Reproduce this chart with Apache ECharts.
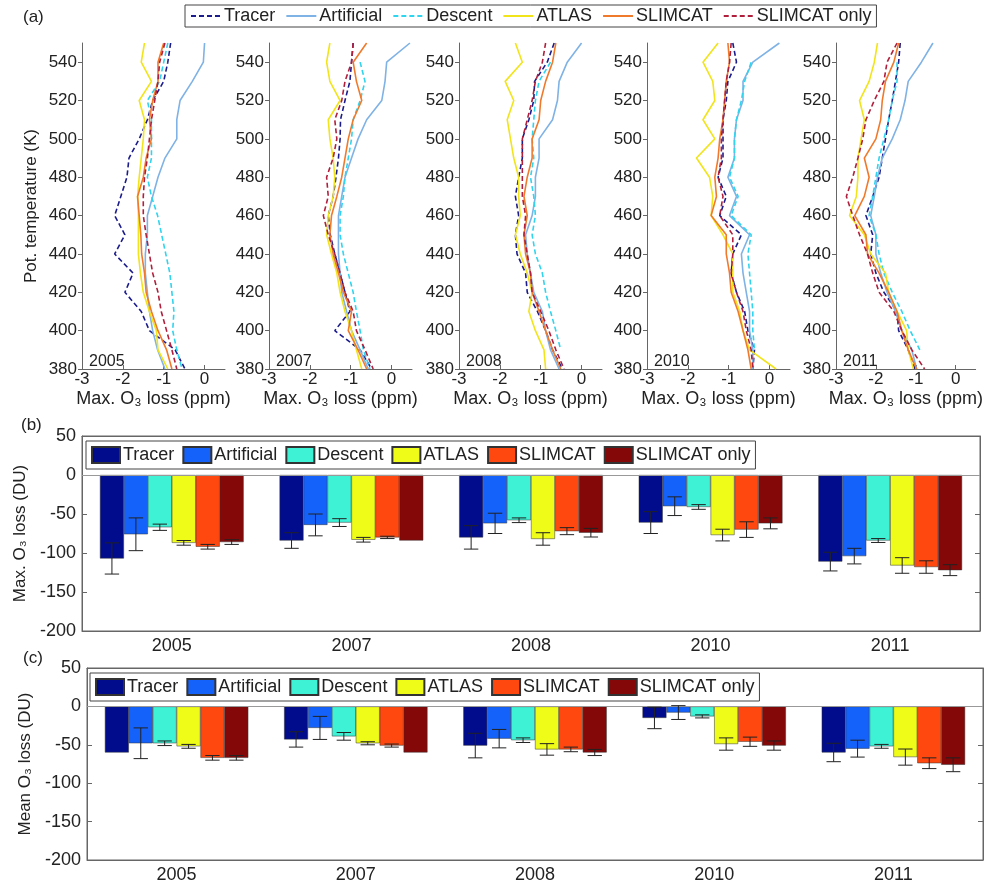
<!DOCTYPE html>
<html>
<head>
<meta charset="utf-8">
<script src="https://cdn.jsdelivr.net/npm/echarts@6/dist/echarts.min.js"></script>
<style>
html, body { margin: 0; padding: 0; background: #fff; }
#main { width: 985px; height: 884px; }
</style>
</head>
<body>
<div id="main"></div>
<script>
// potential temperature levels (K), top to bottom
var levels = [550, 540, 530, 520, 510, 500, 490, 480, 470, 460, 450, 440, 430, 420, 410, 400, 390, 380];
var years = ['2005', '2007', '2008', '2010', '2011'];
var names = ['Tracer', 'Artificial', 'Descent', 'ATLAS', 'SLIMCAT', 'SLIMCAT only'];

// max. O3 loss profiles (ppm), one row per year, values at each level
var profTracer = [
    [-0.83, -0.9, -1.0, -1.27, -1.4, -1.6, -1.85, -1.9, -2.05, -2.2, -1.95, -2.2, -1.75, -1.95, -1.55, -1.35, -0.72, -0.48],
    [-0.94, -0.98, -1.02, -1.14, -1.25, -1.26, -1.3, -1.36, -1.43, -1.55, -1.5, -1.39, -1.26, -1.14, -1.02, -1.39, -0.77, -0.49],
    [-0.67, -0.84, -1.15, -1.17, -1.29, -1.45, -1.45, -1.54, -1.62, -1.54, -1.62, -1.58, -1.37, -1.33, -1.08, -0.88, -0.71, -0.47],
    [-0.9, -0.81, -1.02, -1.06, -1.14, -1.14, -1.14, -1.26, -1.06, -1.22, -0.69, -0.9, -0.94, -0.81, -0.61, -0.53, -0.37, -0.41],
    [-1.39, -1.43, -1.51, -1.59, -1.68, -1.76, -1.84, -1.92, -2.08, -2.25, -2.08, -2.13, -2.0, -1.8, -1.47, -1.43, -1.19, -1.02]
];
var profArtificial = [
    [0.0, -0.03, -0.3, -0.6, -0.68, -0.68, -0.97, -1.14, -1.27, -1.4, -1.4, -1.45, -1.45, -1.4, -1.35, -1.27, -1.15, -0.97],
    [0.45, -0.12, -0.16, -0.24, -0.61, -0.82, -0.98, -1.14, -1.22, -1.3, -1.3, -1.3, -1.26, -1.22, -1.1, -0.98, -0.77, -0.57],
    [0.0, -0.35, -0.55, -0.59, -0.71, -1.04, -1.04, -1.13, -1.13, -1.21, -1.37, -1.33, -1.25, -1.17, -0.96, -0.88, -0.76, -0.55],
    [0.24, -0.41, -0.65, -0.65, -0.81, -0.86, -0.86, -1.02, -0.81, -0.98, -0.49, -0.69, -0.65, -0.57, -0.49, -0.49, -0.41, -0.41],
    [-0.57, -0.86, -1.19, -1.27, -1.39, -1.59, -1.84, -1.96, -2.04, -2.13, -2.0, -2.0, -1.88, -1.72, -1.51, -1.35, -1.1, -0.98]
];
var profDescent = [
    [-0.9, -1.0, -1.1, -1.4, -1.3, -1.3, -1.3, -1.4, -1.3, -1.15, -1.05, -0.95, -0.85, -0.8, -0.75, -0.78, -0.68, -0.55],
    [null, -0.77, -0.65, -0.77, -0.94, -0.98, -1.06, -1.14, -1.18, -1.26, -1.26, -1.18, -1.06, -0.94, -0.86, -0.77, -0.69, -0.53],
    [null, -0.76, -1.04, -1.13, -1.17, -1.21, -1.17, -1.25, -1.17, -1.13, -1.21, -1.13, -0.96, -0.88, -0.76, -0.63, -0.51, null],
    [null, -0.45, -0.61, -0.69, -0.81, -0.86, -0.86, -0.98, -0.77, -0.94, -0.45, -0.53, -0.49, -0.45, -0.41, -0.41, -0.37, null],
    [null, -1.47, -1.47, -1.59, -1.68, -1.8, -1.92, -2.0, -2.08, -2.17, -2.0, -1.92, -1.8, -1.59, -1.35, -1.14, -0.9, null]
];
var profAtlas = [
    [-1.47, -1.55, -1.3, -1.6, -1.47, -1.5, -1.55, -1.6, -1.64, -1.62, -1.62, -1.62, -1.57, -1.5, -1.35, -1.18, -1.14, -0.9],
    [-1.51, -1.59, -1.51, -1.26, -1.55, -1.51, -1.43, -1.39, -1.43, -1.55, -1.59, -1.47, -1.34, -1.26, -1.14, -0.98, -0.86, -0.73],
    [-1.62, -1.45, -1.87, -1.66, -1.82, -1.74, -1.66, -1.54, -1.54, -1.5, -1.62, -1.5, -1.33, -1.21, -1.29, -1.13, -0.92, -0.88],
    [-1.26, -1.63, -1.39, -1.34, -1.63, -1.34, -1.79, -1.47, -1.39, -1.43, -1.14, -0.9, -0.9, -0.9, -0.73, -0.65, -0.49, 0.16],
    [-1.96, -2.04, -2.17, -2.41, -2.29, -2.37, -2.45, -2.45, -2.49, -2.66, -2.29, -2.13, -1.76, -1.68, -1.47, -1.23, -1.19, -1.06]
];
var profSlimcat = [
    [-1.0, -1.14, -1.14, -1.27, -1.35, -1.3, -1.43, -1.5, -1.64, -1.6, -1.56, -1.54, -1.47, -1.43, -1.3, -1.14, -0.93, -0.8],
    [-0.61, -0.94, -0.86, -0.73, -0.94, -1.06, -1.14, -1.22, -1.34, -1.47, -1.51, -1.43, -1.3, -1.18, -0.98, -1.06, -0.82, -0.61],
    [-0.63, -0.71, -0.88, -1.0, -1.04, -1.21, -1.21, -1.33, -1.41, -1.33, -1.41, -1.37, -1.25, -1.21, -1.04, -0.88, -0.71, -0.51],
    [-1.02, -0.98, -1.06, -1.1, -1.14, -1.22, -1.26, -1.34, -1.3, -1.43, -1.06, -1.06, -0.98, -0.94, -0.77, -0.65, -0.53, -0.45],
    [-1.43, -1.55, -1.76, -1.84, -1.88, -2.0, -2.29, -2.17, -2.29, -2.53, -2.25, -2.21, -1.92, -1.68, -1.47, -1.35, -1.19, -0.98]
];
var profSlimcatOnly = [
    [-0.97, -1.1, -1.14, -1.22, -1.3, -1.35, -1.4, -1.47, -1.5, -1.5, -1.43, -1.35, -1.27, -1.14, -1.06, -0.93, -0.8, -0.68],
    [-0.94, -0.98, -1.14, -1.22, -1.39, -1.34, -1.43, -1.59, -1.55, -1.67, -1.55, -1.39, -1.26, -1.14, -0.94, -0.86, -0.65, -0.45],
    [-0.88, -0.96, -1.13, -1.21, -1.33, -1.45, -1.45, -1.45, -1.45, -1.37, -1.41, -1.33, -1.25, -1.21, -1.0, -0.8, -0.63, -0.43],
    [-0.94, -0.98, -1.06, -1.1, -1.14, -1.18, -1.18, -1.26, -1.14, -1.22, -0.9, -0.9, -0.94, -0.81, -0.65, -0.57, -0.45, -0.41],
    [-1.47, -1.72, -1.8, -2.04, -2.25, -2.33, -2.45, -2.58, -2.74, -2.58, -2.41, -2.21, -2.08, -1.92, -1.55, -1.35, -1.1, -0.78]
];

// column loss (DU), one row per method, one value per year
var maxLoss = [
    [-107, -84, -80, -61, -111],
    [-76, -64, -62, -40, -104],
    [-67, -61, -58, -41, -84],
    [-87, -83, -82, -77, -116],
    [-92, -80, -72, -70, -118],
    [-86, -84, -74, -62, -122]
];
var maxLossErr = [
    [20, 10, 15, 14, 12],
    [21, 14, 13, 12, 10],
    [4, 5, 3, 3, 2.5],
    [3, 3, 8, 7.5, 10],
    [3, 1.5, 4.5, 10, 8],
    [3, 0, 5.5, 7, 7]
];
var meanLoss = [
    [-60, -43, -51, -15, -60],
    [-48, -28, -42, -8, -55],
    [-48, -39, -44, -13, -52],
    [-52, -48, -56, -49, -66],
    [-67, -51, -56, -46, -74],
    [-67, -60, -60, -51, -76]
];
var meanLossErr = [
    [0, 10, 16, 14, 12],
    [20, 15, 12, 9, 11],
    [3, 5, 3, 2, 2.5],
    [2.5, 2, 7.5, 8, 10.5],
    [3, 2, 3, 6, 7],
    [3, 0, 4, 6, 9]
];

var profiles = [profTracer, profArtificial, profDescent, profAtlas, profSlimcat, profSlimcatOnly];
var lineColors = ['#1c1c8c', '#7fb2e5', '#2fd4ee', '#f2e41a', '#f07a2c', '#b0203c'];
var lineTypes = [[5, 3], 'solid', [5, 3], 'solid', 'solid', [5, 3]];
var barColors = ['#000c8c', '#1462fa', '#3ef2d6', '#eefc18', '#ff4810', '#840808'];

var font = '"Liberation Sans", Arial, sans-serif';
var txt = {fontFamily: font, fontSize: 18, color: '#222'};
var axisCol = '#666';

var panelLeft = [82, 269, 459, 647, 836];
var grid = [], xAxis = [], yAxis = [], series = [], title = [];

title.push({text: '(a)', left: 18, top: 4, textStyle: {fontFamily: font, fontSize: 17, fontWeight: 'normal', color: '#222'}});
title.push({text: '(b)', left: 16, top: 412, textStyle: {fontFamily: font, fontSize: 17, fontWeight: 'normal', color: '#222'}});
title.push({text: '(c)', left: 18, top: 645, textStyle: {fontFamily: font, fontSize: 17, fontWeight: 'normal', color: '#222'}});

panelLeft.forEach(function(l, i) {
    grid.push({left: l, top: 43, width: 143, height: 326});
    xAxis.push({
        type: 'value', gridIndex: i, min: -3, max: 0.5, interval: 1,
        name: 'Max. O\u2083 loss (ppm)', nameLocation: 'middle', nameGap: 21,
        nameTextStyle: txt,
        axisLine: {show: true, onZero: false, lineStyle: {color: axisCol}},
        axisTick: {show: true, inside: true, length: 4, lineStyle: {color: axisCol}},
        axisLabel: {showMaxLabel: false, margin: 2, fontFamily: font, fontSize: 17, color: '#222'},
        splitLine: {show: false}
    });
    yAxis.push({
        type: 'value', gridIndex: i, min: 380, max: 550, interval: 20,
        name: i === 0 ? 'Pot. temperature (K)' : '', nameLocation: 'middle', nameGap: 42,
        nameTextStyle: {fontFamily: font, fontSize: 17, color: '#222'},
        axisLine: {show: true, onZero: false, lineStyle: {color: axisCol}},
        axisTick: {show: true, length: 4, lineStyle: {color: axisCol}},
        axisLabel: {showMaxLabel: false, margin: 5, fontFamily: font, fontSize: 17, color: '#222'},
        splitLine: {show: false}
    });
    title.push({text: years[i], left: l + 2, top: 349, textStyle: {fontFamily: font, fontSize: 16, fontWeight: 'normal', color: '#222'}});
    profiles.forEach(function(prof, j) {
        var pts = [];
        levels.forEach(function(k, idx) {
            if (prof[i][idx] != null) pts.push([prof[i][idx], k]);
        });
        series.push({
            type: 'line', name: names[j], xAxisIndex: i, yAxisIndex: i,
            data: pts, symbol: 'none', silent: true,
            lineStyle: {color: lineColors[j], width: 1.6, type: lineTypes[j]},
            itemStyle: {color: lineColors[j]}
        });
    });
});

// error bars drawn over the grouped bars
function renderErr(params, api) {
    var cat = api.value(0), j = api.value(1), v = api.value(2), e = api.value(3);
    if (!e) return;
    var band = api.size([1, 0])[0];
    var w = band * 0.8 / 6;
    var x = api.coord([cat, v])[0] - 0.4 * band + (j + 0.5) * w;
    var y1 = api.coord([cat, v + e])[1];
    var y2 = api.coord([cat, v - e])[1];
    var cap = w * 0.3;
    var st = {stroke: '#222', lineWidth: 1};
    return {
        type: 'group',
        children: [
            {type: 'line', shape: {x1: x, y1: y1, x2: x, y2: y2}, style: st},
            {type: 'line', shape: {x1: x - cap, y1: y1, x2: x + cap, y2: y1}, style: st},
            {type: 'line', shape: {x1: x - cap, y1: y2, x2: x + cap, y2: y2}, style: st}
        ]
    };
}

function addBarPanel(gi, left, top, yName, values, errs) {
    grid.push({left: left, top: top, width: 980 - left + (gi === 6 ? 3 : 0), height: 195,
        show: true, borderColor: axisCol, borderWidth: 1, backgroundColor: 'transparent'});
    var xi = xAxis.length, yi = yAxis.length;
    xAxis.push({
        type: 'category', gridIndex: gi, data: years, position: 'bottom',
        axisLine: {onZero: false, lineStyle: {color: axisCol}},
        axisTick: {alignWithLabel: true, inside: true, length: 5, lineStyle: {color: axisCol}},
        axisLabel: {margin: 6, fontFamily: font, fontSize: 18, color: '#222'}
    });
    xAxis.push({
        type: 'category', gridIndex: gi, data: years, position: 'top',
        axisLine: {onZero: false, lineStyle: {color: axisCol}},
        axisTick: {alignWithLabel: true, inside: true, length: 5, lineStyle: {color: axisCol}},
        axisLabel: {show: false}
    });
    yAxis.push({
        type: 'value', gridIndex: gi, min: -200, max: 50, interval: 50,
        name: yName, nameLocation: 'middle', nameGap: 52,
        nameTextStyle: {fontFamily: font, fontSize: 17, color: '#222'},
        axisLine: {show: true, onZero: false, lineStyle: {color: axisCol}},
        axisTick: {show: true, inside: true, length: 5, lineStyle: {color: axisCol}},
        axisLabel: {margin: 6, fontFamily: font, fontSize: 18, color: '#222'},
        splitLine: {show: false}
    });
    yAxis.push({
        type: 'value', gridIndex: gi, min: -200, max: 50, interval: 50, position: 'right',
        axisLine: {show: true, onZero: false, lineStyle: {color: axisCol}},
        axisTick: {show: true, inside: true, length: 5, lineStyle: {color: axisCol}},
        axisLabel: {show: false},
        splitLine: {show: false}
    });
    var errData = [];
    names.forEach(function(n, j) {
        var s = {
            type: 'bar', name: 'bar:' + n, xAxisIndex: xi, yAxisIndex: yi,
            data: values[j], barGap: '0%', barCategoryGap: '20%', silent: true,
            itemStyle: {color: barColors[j], borderColor: '#333', borderWidth: 0.5}
        };
        if (j === 0) {
            s.markLine = {
                silent: true, symbol: ['none', 'none'], label: {show: false},
                lineStyle: {color: '#999', width: 1, type: 'solid'},
                data: [{yAxis: 0}]
            };
        }
        series.push(s);
        values[j].forEach(function(v, c) {
            errData.push([c, j, v, errs[j][c]]);
        });
    });
    series.push({
        type: 'custom', xAxisIndex: xi, yAxisIndex: yi, z: 10, silent: true,
        renderItem: renderErr, encode: {x: 0, y: 2}, data: errData
    });
}

addBarPanel(5, 82, 436, 'Max. O\u2083 loss (DU)', maxLoss, maxLossErr);
addBarPanel(6, 87, 668, 'Mean O\u2083 loss (DU)', meanLoss, meanLossErr);

var barLegendNames = names.map(function(n) { return 'bar:' + n; });
function barLegend(left, top) {
    return {
        data: barLegendNames, left: left, top: top, orient: 'horizontal',
        icon: 'rect', itemWidth: 28, itemHeight: 16, itemGap: 8,
        padding: [5, 5], backgroundColor: '#fff', borderColor: '#444', borderWidth: 1,
        borderRadius: 0, selectedMode: false,
        textStyle: {fontFamily: font, fontSize: 18, color: '#222', padding: [0, 0, 0, -2]},
        formatter: function(n) { return n.slice(4); }
    };
}

var option = {
    animation: false,
    backgroundColor: '#fff',
    title: title,
    legend: [
        {
            data: names, left: 185, top: 5, orient: 'horizontal',
            itemWidth: 30, itemHeight: 12, itemGap: 10,
            itemStyle: {opacity: 0},
            padding: [2, 5], backgroundColor: '#fff', borderColor: '#444', borderWidth: 1,
            borderRadius: 0, selectedMode: false,
            textStyle: {fontFamily: font, fontSize: 18, color: '#222', padding: [0, 0, 0, -2]}
        },
        barLegend(86, 441),
        barLegend(90, 673)
    ],
    grid: grid,
    xAxis: xAxis,
    yAxis: yAxis,
    series: series
};

var chart = echarts.init(document.getElementById('main'));
chart.setOption(option);
</script>
</body>
</html>
